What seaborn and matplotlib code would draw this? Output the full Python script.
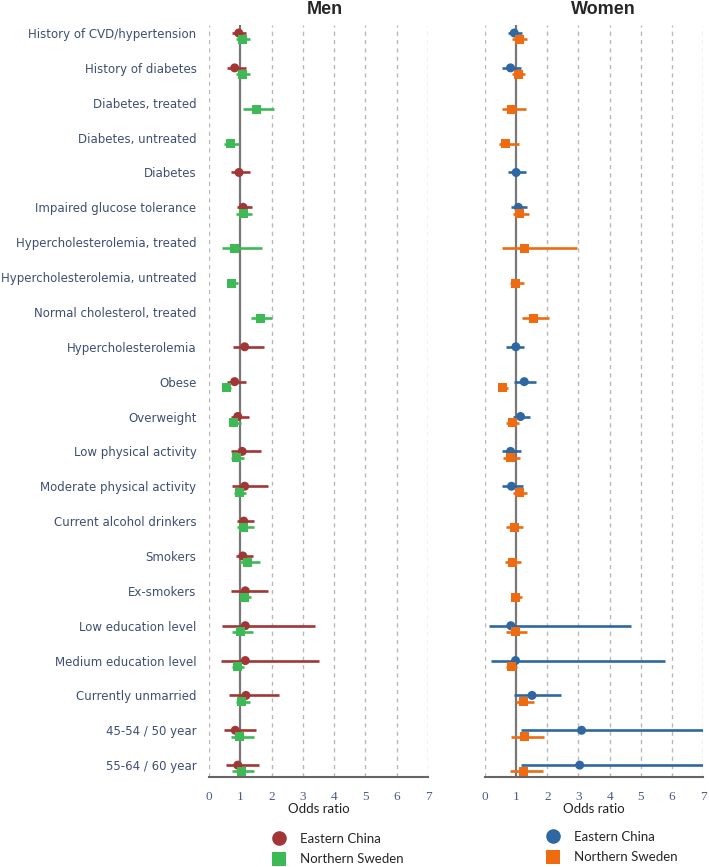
import numpy as np
import pandas as pd
import matplotlib
matplotlib.use('Agg')
import matplotlib.pyplot as plt
import seaborn as sns
from matplotlib.lines import Line2D

nan = np.nan

factors = ['History of CVD/hypertension', 'History of diabetes', 'Diabetes, treated',
           'Diabetes, untreated', 'Diabetes', 'Impaired glucose tolerance',
           'Hypercholesterolemia, treated', 'Hypercholesterolemia, untreated',
           'Normal cholesterol, treated', 'Hypercholesterolemia', 'Obese', 'Overweight',
           'Low physical activity', 'Moderate physical activity', 'Current alcohol drinkers',
           'Smokers', 'Ex-smokers', 'Low education level', 'Medium education level',
           'Currently unmarried', '45-54 / 50 year', '55-64 / 60 year']

# Men
men_china_or = [0.95, 0.82, nan, nan, 0.96, 1.09, nan, nan, nan, 1.14, 0.82, 0.92,
                1.06, 1.14, 1.11, 1.08, 1.16, 1.16, 1.16, 1.18, 0.84, 0.92]
men_china_lo = [0.75, 0.57, nan, nan, 0.71, 0.89, nan, nan, nan, 0.76, 0.57, 0.69,
                0.69, 0.72, 0.90, 0.85, 0.71, 0.41, 0.38, 0.63, 0.49, 0.55]
men_china_hi = [1.19, 1.19, nan, nan, 1.32, 1.38, nan, nan, nan, 1.75, 1.17, 1.27,
                1.66, 1.87, 1.45, 1.41, 1.90, 3.39, 3.53, 2.24, 1.51, 1.61]
men_sweden_or = [1.07, 1.07, 1.52, 0.68, nan, 1.11, 0.82, 0.73, 1.65, nan, 0.57, 0.78,
                 0.88, 0.98, 1.11, 1.22, 1.14, 1.00, 0.92, 1.05, 0.98, 1.03]
men_sweden_lo = [0.87, 0.87, 1.09, 0.49, nan, 0.87, 0.40, 0.59, 1.34, nan, 0.46, 0.63,
                 0.71, 0.81, 0.90, 0.96, 1.00, 0.75, 0.75, 0.87, 0.71, 0.75]
men_sweden_hi = [1.31, 1.32, 2.09, 0.97, nan, 1.38, 1.71, 0.92, 2.01, nan, 0.70, 1.02,
                 1.11, 1.18, 1.43, 1.62, 1.35, 1.40, 1.11, 1.30, 1.43, 1.45]

# Women
women_china_or = [0.94, 0.82, nan, nan, 1.00, 1.07, nan, nan, nan, 0.99, 1.26, 1.14,
                  0.82, 0.85, nan, nan, nan, 0.83, 0.98, 1.51, 3.10, 3.04]
women_china_lo = [0.73, 0.56, nan, nan, 0.75, 0.82, nan, nan, nan, 0.69, 0.94, 0.91,
                  0.56, 0.56, nan, nan, nan, 0.14, 0.18, 0.94, 1.14, 1.14]
women_china_hi = [1.20, 1.15, nan, nan, 1.31, 1.34, nan, nan, nan, 1.26, 1.63, 1.44,
                  1.15, 1.23, nan, nan, nan, 4.68, 5.77, 2.43, 8.40, 8.20]
women_sweden_or = [1.10, 1.07, 0.85, 0.67, nan, 1.12, 1.28, 0.99, 1.55, nan, 0.57, 0.87,
                   0.83, 1.12, 0.96, 0.88, 0.98, 0.99, 0.85, 1.25, 1.26, 1.23]
women_sweden_lo = [0.88, 0.86, 0.56, 0.46, nan, 0.89, 0.53, 0.80, 1.18, nan, 0.46, 0.67,
                   0.59, 0.89, 0.69, 0.64, 0.82, 0.67, 0.67, 0.98, 0.82, 0.80]
women_sweden_hi = [1.34, 1.28, 1.31, 1.09, nan, 1.42, 2.96, 1.26, 2.04, nan, 0.75, 1.10,
                   1.12, 1.36, 1.23, 1.15, 1.20, 1.36, 1.04, 1.58, 1.89, 1.87]

groups = ['Eastern China', 'Northern Sweden']
men_colors = {'Eastern China': '#a23535', 'Northern Sweden': '#3dba55'}
women_colors = {'Eastern China': '#2f67a3', 'Northern Sweden': '#ef6b12'}

LABEL_COLOR = '#3d4f70'
TICK_COLOR = '#4a5b86'
AXIS_COLOR = '#666666'


def build_frame(china, sweden):
    rows = []
    for grp, (orv, lo, hi), off in [(groups[0], china, 0.0), (groups[1], sweden, 0.18)]:
        for i, f in enumerate(factors):
            if np.isnan(orv[i]):
                continue
            rows.append({'factor': f, 'group': grp, 'or': orv[i], 'lo': lo[i],
                         'hi': hi[i], 'y': i + off})
    return pd.DataFrame(rows)


def draw_panel(ax, df, colors, show_labels):
    for x in range(8):
        if x == 1:
            continue
        ax.axvline(x, color='#b8b8b8', lw=1.0, ls=(0, (3, 3)), zorder=0)
    ax.axvline(1, color='#777777', lw=1.6, zorder=1)

    for grp in groups:
        sub = df[df['group'] == grp]
        ax.hlines(sub['y'], sub['lo'], sub['hi'], color=colors[grp], lw=1.9, zorder=2)

    sns.scatterplot(data=df, x='or', y='y', hue='group', style='group',
                    markers={'Eastern China': 'o', 'Northern Sweden': 's'},
                    palette=colors, s=42, linewidth=0, legend=False, ax=ax, zorder=3)

    ax.set_xlim(0, 7)
    ax.set_ylim(len(factors) - 1 + 0.34, -0.23)
    ax.set_xticks(range(8))
    ax.set_xticklabels([str(i) for i in range(8)], family='Liberation Serif',
                       fontsize=9.5, color=TICK_COLOR)
    ax.tick_params(axis='x', direction='inout', length=8, width=1.5, color=AXIS_COLOR, pad=6)
    ax.set_yticks(range(len(factors)))
    if show_labels:
        ax.set_yticklabels(factors, fontsize=8.5, color=LABEL_COLOR, family='DejaVu Sans')
        ax.tick_params(axis='y', length=0, pad=9)
    else:
        ax.set_yticklabels([])
        ax.tick_params(axis='y', length=0)
    for side in ['top', 'right', 'left']:
        ax.spines[side].set_visible(False)
    ax.spines['bottom'].set_color(AXIS_COLOR)
    ax.spines['bottom'].set_linewidth(1.5)
    ax.set_xlabel('Odds ratio', fontsize=9.5, family='Lato', color='#222222', labelpad=0)
    ax.set_ylabel('')
    ax.set_facecolor('none')


sns.set_style('white')
plt.rcParams['font.family'] = ['DejaVu Sans']

fig = plt.figure(figsize=(7.09, 8.67), dpi=100)
ax_m = fig.add_axes([209 / 709, 1 - 777 / 867, 219 / 709, 752 / 867])
ax_w = fig.add_axes([485 / 709, 1 - 777 / 867, 218 / 709, 752 / 867])

draw_panel(ax_m, build_frame((men_china_or, men_china_lo, men_china_hi),
                             (men_sweden_or, men_sweden_lo, men_sweden_hi)),
           men_colors, True)
draw_panel(ax_w, build_frame((women_china_or, women_china_lo, women_china_hi),
                             (women_sweden_or, women_sweden_lo, women_sweden_hi)),
           women_colors, False)

fig.text(325 / 709, 1 - 10 / 867, 'Men', ha='center', va='center', fontsize=13,
         fontweight='bold', family='Liberation Sans')
fig.text(603 / 709, 1 - 10 / 867, 'Women', ha='center', va='center', fontsize=13,
         fontweight='bold', family='Liberation Sans')


def add_legend(colors, x_px, y_px):
    handles = [Line2D([], [], marker='o', ls='none', markersize=10.5,
                      markerfacecolor=colors[groups[0]], markeredgewidth=0),
               Line2D([], [], marker='s', ls='none', markersize=9.5,
                      markerfacecolor=colors[groups[1]], markeredgewidth=0)]
    fig.legend(handles, groups, loc='upper left', bbox_to_anchor=(x_px / 709, 1 - y_px / 867),
               frameon=False, borderpad=0, handlelength=1.2, handletextpad=1.0,
               labelspacing=0.65, prop={'family': 'Lato', 'size': 9.5})


add_legend(men_colors, 264, 826)
add_legend(women_colors, 538, 824)

fig.savefig('out.png', dpi=100)
